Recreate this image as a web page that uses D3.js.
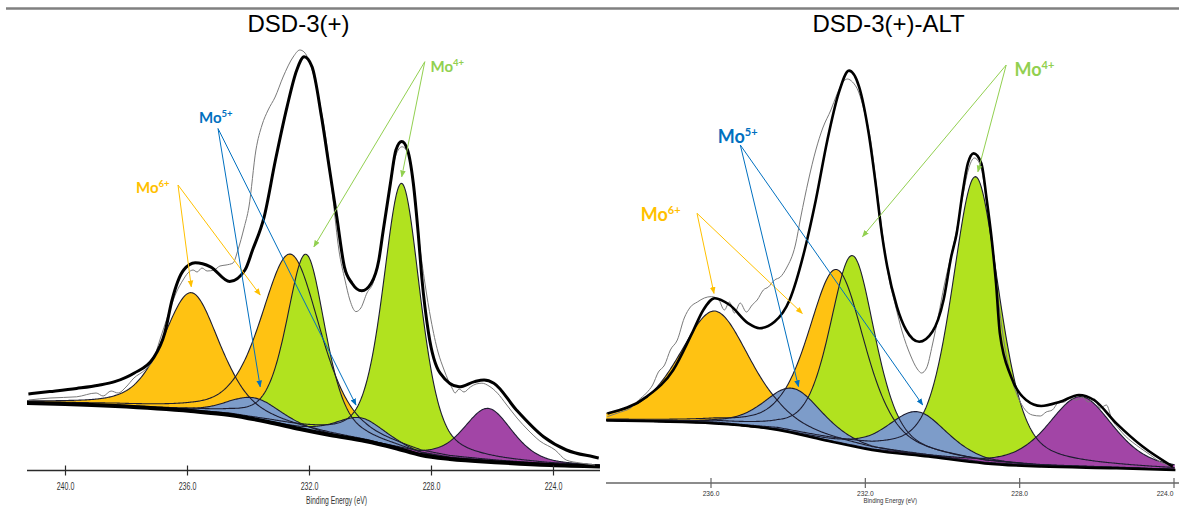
<!DOCTYPE html>
<html>
<head>
<meta charset="utf-8">
<script src="https://cdn.jsdelivr.net/npm/d3@7"></script>
<style>
  html, body { margin: 0; padding: 0; background: #ffffff; }
  svg { display: block; }
</style>
</head>
<body>
<svg id="chart" width="1179" height="512"></svg>
<script>
// ===================== DATA =====================
const panelTitles = ["DSD-3(+)", "DSD-3(+)-ALT"];
const axisTitle = "Binding Energy (eV)";
const leftTicks = [240, 236, 232, 228, 224];
const rightTicks = [236, 232, 228, 224];

// fitted components (order = drawing order)
const componentNames   = ["Mo6+ 3d5/2", "Mo6+ 3d3/2", "Mo4+ 3d3/2", "Mo4+ 3d5/2", "Mo5+ 3d5/2", "Mo5+ 3d3/2", "S 2s"];
const componentSpecies = ["Mo6+", "Mo6+", "Mo4+", "Mo4+", "Mo5+", "Mo5+", "S"];

// left panel: DSD-3(+)   (binding energy eV, intensity a.u., FWHM eV)
const leftCenter = [235.86, 232.60, 232.10, 228.96, 233.80, 230.30, 226.13];
const leftHeight = [29.6, 43.2, 44.0, 66.6, 5.4, 5.6, 13.3];
const leftFwhm   = [2.2, 2.3, 1.5, 1.45, 2.1, 2.0, 1.9];

// right panel: DSD-3(+)-ALT
const rightCenter = [235.89, 232.73, 232.32, 229.13, 233.85, 230.64, 226.41];
const rightHeight = [28.1, 43.3, 47.6, 71.4, 11.2, 10.9, 17.7];
const rightFwhm   = [2.2, 1.75, 1.4, 1.45, 1.8, 1.85, 2.0];

// Shirley-type backgrounds [eV, intensity]
const leftBackground = [[241.25,16.75],[240.0,16.5],[238.36,16.0],[235.87,14.75],[234.59,13.75],[233.34,12.0],[232.3,10.25],[231.31,8.75],[230.16,7.25],[229.18,5.5],[228.33,3.75],[227.38,2.75],[225.74,1.9],[224.1,1.25],[222.46,0.9]];
const rightBackground = [[238.7,15.6],[235.89,14.9],[234.24,13.25],[233.07,10.75],[231.81,8.25],[230.35,6.6],[228.89,4.9],[227.43,4.1],[225.48,3.7],[223.95,3.25]];

// fit envelopes [eV, intensity]
const leftEnvelope = [[241.2,19.0],[240.5,19.6],[239.62,20.4],[238.9,21.2],[238.37,22.1],[237.74,24.2],[237.11,27.9],[236.73,34.2],[236.49,42.5],[236.11,50.0],[235.73,51.8],[235.23,50.8],[234.6,47.1],[234.1,50.0],[233.85,55.0],[233.47,63.3],[233.1,77.5],[232.72,90.8],[232.4,100.0],[232.16,103.3],[231.9,100.8],[231.59,88.3],[231.34,75.8],[231.09,63.3],[230.84,50.8],[230.59,46.7],[230.27,44.8],[229.96,46.7],[229.71,52.5],[229.58,59.2],[229.33,71.7],[229.15,80.0],[228.96,82.1],[228.77,80.0],[228.58,71.7],[228.42,59.2],[228.3,48.0],[228.08,34.2],[227.7,24.2],[227.08,20.8],[226.57,22.1],[226.26,22.5],[225.94,21.7],[225.2,15.0],[224.31,8.3],[223.56,5.0],[222.68,3.3],[222.5,3.0]];
const rightEnvelope = [[238.67,17.4],[237.65,21.6],[236.97,28.2],[236.48,37.4],[236.19,43.2],[235.89,46.2],[235.5,44.5],[235.02,39.9],[234.73,38.7],[234.34,40.3],[233.95,45.75],[233.56,58.25],[233.27,70.75],[232.97,85.75],[232.68,97.4],[232.41,103.1],[232.15,99.1],[231.9,87.4],[231.71,74.1],[231.56,62.4],[231.42,54.1],[231.17,44.1],[230.93,38.25],[230.59,35.3],[230.25,37.8],[229.96,45.75],[229.76,56.6],[229.62,62.4],[229.47,72.4],[229.33,79.9],[229.18,82.4],[228.98,79.9],[228.84,70.75],[228.71,60.75],[228.6,50.0],[228.5,37.4],[228.21,26.6],[227.82,20.75],[227.43,19.25],[226.94,20.3],[226.45,22.0],[226.06,20.75],[225.48,14.9],[224.8,9.1],[224.02,4.1]];

// measured (raw) spectra [eV, intensity]
const leftRaw = [[241.19,17.5],[240.49,18.0],[239.62,18.3],[238.98,19.25],[238.75,18.5],[238.49,19.75],[238.26,19.25],[238.0,20.75],[237.74,23.0],[237.38,25.0],[237.11,27.5],[236.89,32.5],[236.62,38.75],[236.36,44.25],[236.13,47.5],[235.97,49.25],[235.8,50.0],[235.67,49.5],[235.51,50.5],[235.34,49.75],[235.11,50.0],[234.92,51.0],[234.72,51.25],[234.49,51.75],[234.33,55.0],[234.13,60.5],[233.97,65.75],[233.74,80.0],[233.54,86.25],[233.34,90.0],[233.11,93.25],[232.85,98.25],[232.52,103.25],[232.3,105.0],[232.16,104.5],[231.97,101.75],[231.7,93.75],[231.44,82.5],[231.21,67.5],[231.02,55.0],[230.82,47.5],[230.66,42.5],[230.46,39.6],[230.3,40.5],[230.1,44.25],[229.9,46.75],[229.7,53.0],[229.51,62.5],[229.31,72.5],[229.15,78.75],[228.95,80.8],[228.75,79.25],[228.56,71.25],[228.39,57.5],[228.2,46.75],[228.0,37.5],[227.77,29.5],[227.57,25.0],[227.44,22.5],[227.31,20.5],[227.21,19.25],[227.08,20.25],[226.92,19.5],[226.7,20.8],[226.52,21.5],[226.33,21.7],[226.1,21.0],[225.82,19.2],[225.54,16.5],[225.18,13.0],[224.82,10.0],[224.43,7.25],[223.93,5.0],[223.57,2.5],[223.11,1.75],[222.62,1.25]];
const rightRaw = [[238.67,16.6],[238.33,17.75],[238.07,18.75],[237.86,20.75],[237.66,22.5],[237.5,24.5],[237.35,27.75],[237.19,29.5],[237.04,33.25],[236.86,35.75],[236.68,41.25],[236.52,44.0],[236.34,45.25],[236.16,46.25],[235.98,46.6],[235.8,46.0],[235.64,43.25],[235.51,45.25],[235.38,42.5],[235.23,45.0],[235.07,42.75],[234.92,44.5],[234.79,45.75],[234.63,48.25],[234.5,49.0],[234.34,50.75],[234.19,51.5],[234.03,53.75],[233.8,59.5],[233.66,66.5],[233.46,75.75],[233.27,83.25],[233.09,88.75],[232.88,93.25],[232.73,97.0],[232.57,100.25],[232.45,101.0],[232.32,100.25],[232.16,97.75],[232.01,92.75],[231.85,85.75],[231.7,74.5],[231.54,62.0],[231.39,52.0],[231.21,44.5],[231.03,37.75],[230.82,32.0],[230.64,28.5],[230.53,27.5],[230.4,28.75],[230.25,34.5],[230.09,42.0],[229.94,49.5],[229.78,56.25],[229.63,62.75],[229.47,71.25],[229.32,78.25],[229.16,81.25],[229.0,79.25],[228.85,70.75],[228.69,59.5],[228.54,45.75],[228.38,34.5],[228.2,26.25],[228.02,21.25],[227.84,18.25],[227.66,17.0],[227.45,16.75],[227.3,17.75],[227.14,18.25],[226.99,20.0],[226.83,20.25],[226.68,21.25],[226.52,20.75],[226.36,21.5],[226.21,20.25],[226.05,21.0],[225.9,18.75],[225.74,19.5],[225.59,15.75],[225.43,13.75],[225.25,11.75],[225.07,10.25],[224.86,8.75],[224.6,7.0],[224.34,5.25],[224.08,4.25]];

// annotation species and arrow targets [eV, intensity]
const annotationSpecies = ["Mo6+", "Mo5+", "Mo4+"];
const leftArrowTargets  = [[[235.86,45.8],[233.6,43.75]], [[233.6,20.8],[230.46,16.25]], [[231.84,55.8],[228.96,73.3]]];
const rightArrowTargets = [[[235.91,47.4],[233.62,42.4]], [[233.72,24.1],[230.5,19.5]], [[232.06,61.6],[229.07,77.8]]];

// ===================== LAYOUT & STYLE =====================
const fillColor = {"Mo6+": "#FFC212", "Mo4+": "#B1E21F", "Mo5+": "#7D9CC9", "S": "#A245A6"};
const labelColor = {"Mo6+": "#FFC000", "Mo5+": "#0070C0", "Mo4+": "#92D050"};
const lorentzFraction = 0.45;

const panels = [
  {
    title: panelTitles[0], titleX: 298.5,
    xDomain: [240, 224], xRange: [65, 553], eStart: 241.25, eEnd: 222.46,
    yBase: 470, clip: [27, 600],
    axisY: 470.5, axisX: [27, 600], axisColor: "#2a2a2a", ticks: leftTicks,
    tickFont: 11, tickLen: 17.7, tickY: 19.5, lastTickShift: 0,
    axisTitleX: 306, axisTitleY: 503.5, axisTitleFont: 11, axisTitleLen: 61,
    centers: leftCenter, heights: leftHeight, fwhms: leftFwhm,
    background: leftBackground, envelope: leftEnvelope, raw: leftRaw,
    bgWidth: 4, envWidth: 3,
    labelFont: 15, supFont: 9.5, supRaise: 6,
    labels: [{x: 136, y: 192.5, from: [178, 185]}, {x: 199, y: 123, from: [218, 128.5]}, {x: 430.5, y: 71.5, from: [424.8, 61.7]}],
    targets: leftArrowTargets
  },
  {
    title: panelTitles[1], titleX: 888.6,
    xDomain: [236, 224], xRange: [710.5, 1173.5], eStart: 238.7, eEnd: 223.95,
    yBase: 483, clip: [606, 1179],
    axisY: 483, axisX: [606, 1179], axisColor: "#666666", ticks: rightTicks,
    tickFont: 8, tickLen: 16.7, tickY: 12.5, lastTickShift: -9,
    axisTitleX: 863.5, axisTitleY: 502.5, axisTitleFont: 8, axisTitleLen: 53.5,
    centers: rightCenter, heights: rightHeight, fwhms: rightFwhm,
    background: rightBackground, envelope: rightEnvelope, raw: rightRaw,
    bgWidth: 2.5, envWidth: 2.6,
    labelFont: 18, supFont: 11, supRaise: 7,
    labels: [{x: 640.7, y: 220.5, from: [697, 213.3]}, {x: 717.7, y: 143, from: [740.3, 145]}, {x: 1014.5, y: 76, from: [1006.2, 65]}],
    targets: rightArrowTargets
  }
];

// ===================== DRAWING =====================
const svg = d3.select("#chart");
const defs = svg.append("defs");

annotationSpecies.forEach((s, i) => {
  defs.append("marker")
    .attr("id", "arrow" + i)
    .attr("viewBox", "0 0 10 10")
    .attr("refX", 9).attr("refY", 5)
    .attr("markerWidth", 7).attr("markerHeight", 7)
    .attr("markerUnits", "userSpaceOnUse")
    .attr("orient", "auto")
    .append("path").attr("d", "M0,1 L10,5 L0,9 Z").attr("fill", labelColor[s]);
});

svg.append("line").attr("x1", 6).attr("x2", 1179).attr("y1", 8.5).attr("y2", 8.5)
  .attr("stroke", "#808080").attr("stroke-width", 2.5);

// Gaussian-Lorentzian line shape of a fitted component
function lineShape(e, c, h, w) {
  const r = (e - c) / w;
  return h * ((1 - lorentzFraction) * Math.exp(-4 * Math.LN2 * r * r) + lorentzFraction / (1 + 4 * r * r));
}

panels.forEach((p, pi) => {
  const g = svg.append("g");
  const x = d3.scaleLinear().domain(p.xDomain).range(p.xRange);
  const y = d3.scaleLinear().domain([0, 105]).range([p.yBase, p.yBase - 420]);
  const bgAt = d3.scaleLinear()
    .domain(p.background.map(d => d[0]))
    .range(p.background.map(d => d[1]))
    .clamp(true);

  defs.append("clipPath").attr("id", "clip" + pi)
    .append("rect").attr("x", p.clip[0]).attr("y", 0)
    .attr("width", p.clip[1] - p.clip[0]).attr("height", 512);

  const plot = g.append("g").attr("clip-path", `url(#clip${pi})`);
  const grid = d3.range(p.eStart, p.eEnd - 1e-9, -0.03);

  const comps = p.centers.map((c, i) => grid.map(e => ({
    e: e, b: bgAt(e), v: lineShape(e, c, p.heights[i], p.fwhms[i])
  })));

  const area = d3.area().x(d => x(d.e)).y0(d => y(d.b)).y1(d => y(d.b + d.v));
  const top = d3.line().x(d => x(d.e)).y(d => y(d.b + d.v));

  comps.forEach((pts, i) => {
    plot.append("path").attr("d", area(pts))
      .attr("fill", fillColor[componentSpecies[i]]).attr("stroke", "none");
  });
  comps.forEach((pts, i) => {
    plot.append("path").attr("d", top(pts))
      .attr("fill", "none").attr("stroke", "#1d1d30").attr("stroke-width", 1.1);
  });

  const curve = d3.line().x(d => x(d[0])).y(d => y(d[1])).curve(d3.curveMonotoneX);

  plot.append("path").attr("d", curve(p.background))
    .attr("fill", "none").attr("stroke", "#000").attr("stroke-width", p.bgWidth);
  plot.append("path").attr("d", curve(p.raw))
    .attr("fill", "none").attr("stroke", "#7a7a7a").attr("stroke-width", 1);
  plot.append("path").attr("d", curve(p.envelope))
    .attr("fill", "none").attr("stroke", "#000").attr("stroke-width", p.envWidth)
    .attr("stroke-linejoin", "round");

  // axis
  g.append("line").attr("x1", p.axisX[0]).attr("x2", p.axisX[1])
    .attr("y1", p.axisY).attr("y2", p.axisY)
    .attr("stroke", p.axisColor).attr("stroke-width", 1.3);
  const axis = d3.axisBottom(x).tickValues(p.ticks).tickFormat(d3.format(".1f")).tickSize(0);
  const ag = g.append("g").attr("transform", `translate(0,${p.axisY})`).call(axis);
  ag.select(".domain").remove();
  ag.selectAll(".tick line").attr("y1", -5).attr("y2", 5)
    .attr("stroke", p.axisColor).attr("stroke-width", 1.2);
  const nT = p.ticks.length;
  ag.selectAll(".tick text")
    .attr("y", p.tickY).attr("dy", null)
    .attr("x", (d, i) => i === nT - 1 ? p.lastTickShift : 0)
    .attr("font-family", "'Liberation Sans Narrow', 'Arial Narrow', 'Liberation Sans', sans-serif")
    .attr("font-size", p.tickFont)
    .attr("fill", "#333")
    .attr("textLength", p.tickLen).attr("lengthAdjust", "spacingAndGlyphs");

  g.append("text").text(axisTitle)
    .attr("x", p.axisTitleX).attr("y", p.axisTitleY)
    .attr("font-family", "'Liberation Sans Narrow', 'Arial Narrow', 'Liberation Sans', sans-serif")
    .attr("font-size", p.axisTitleFont).attr("fill", "#333")
    .attr("textLength", p.axisTitleLen).attr("lengthAdjust", "spacingAndGlyphs");

  g.append("text").text(p.title)
    .attr("x", p.titleX).attr("y", 32).attr("text-anchor", "middle")
    .attr("font-family", "'Liberation Sans', Arial, sans-serif")
    .attr("font-size", 24).attr("fill", "#000");

  annotationSpecies.forEach((s, k) => {
    const L = p.labels[k];
    const t = g.append("text").attr("x", L.x).attr("y", L.y)
      .attr("font-family", "Lato, 'Open Sans', sans-serif").attr("font-weight", "bold")
      .attr("font-size", p.labelFont).attr("fill", labelColor[s]);
    t.append("tspan").text(s.slice(0, 2));
    t.append("tspan").text(s.slice(2)).attr("font-size", p.supFont).attr("dy", -p.supRaise);
    p.targets[k].forEach(tp => {
      g.append("line")
        .attr("x1", L.from[0]).attr("y1", L.from[1])
        .attr("x2", x(tp[0])).attr("y2", y(tp[1]))
        .attr("stroke", labelColor[s]).attr("stroke-width", 1)
        .attr("marker-end", `url(#arrow${k})`);
    });
  });
});
</script>
</body>
</html>
